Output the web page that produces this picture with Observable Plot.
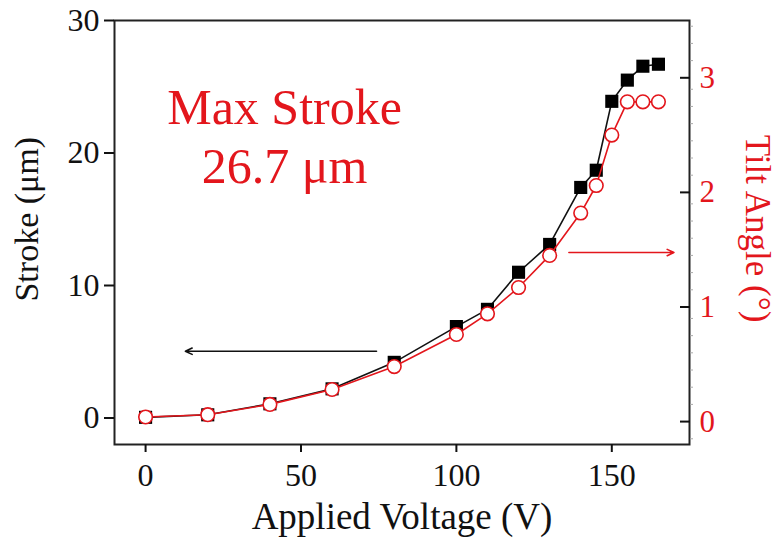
<!DOCTYPE html>
<html><head><meta charset="utf-8">
<script src="https://cdn.jsdelivr.net/npm/d3@7"></script>
<script src="https://cdn.jsdelivr.net/npm/@observablehq/plot@0.6"></script>
<style>body{margin:0;background:#fff}</style>
</head><body><div id="chart"></div>
<script>
// ---- data ----
const voltage = [0, 20, 40, 60, 80, 100, 110, 120, 130, 140, 145, 150, 155, 160, 165];
const stroke  = [0.05, 0.24, 1.07, 2.2, 4.2, 6.9, 8.2, 11.0, 13.1, 17.4, 18.7, 23.9, 25.5, 26.55, 26.7];
const tilt    = [0.04, 0.06, 0.15, 0.28, 0.48, 0.76, 0.94, 1.17, 1.45, 1.82, 2.06, 2.50, 2.79, 2.79, 2.79];

const xTicks = [0, 50, 100, 150];
const strokeTicks = [0, 10, 20, 30];
const tiltTicks = [0, 1, 2, 3];
const tiltMinor = [-0.15, 0.15, 0.3, 0.45, 0.6, 0.75, 0.9, 1.15, 1.3, 1.45, 1.6, 1.75, 1.9, 2.15, 2.3, 2.45, 2.6, 2.75, 2.9, 3.15, 3.3, 3.45];

const xDomain = [-10, 175];
const strokeDomain = [-2, 30];
const tiltDomain = [-0.2, 3.5];

// annotation arrows (x in V, y in stroke units)
const arrowX1 = [74.3, 136.2];
const arrowX2 = [12.8, 170.0];
const arrowY  = [5.04, 12.49];
const arrowColor = ["#111111", "#e3161c"];

const annotX = [44.7];
const annotY = [17.77];
const annotText = ["Max Stroke\n26.7 μm"];

const RED = "#e3161c";
const toStroke = t => strokeDomain[0] + (t - tiltDomain[0]) / (tiltDomain[1] - tiltDomain[0]) * (strokeDomain[1] - strokeDomain[0]);
const fromStroke = s => tiltDomain[0] + (s - strokeDomain[0]) / (strokeDomain[1] - strokeDomain[0]) * (tiltDomain[1] - tiltDomain[0]);

const strokeData = voltage.map((v, i) => ({v, s: stroke[i]}));
const tiltData = voltage.map((v, i) => ({v, t: tilt[i], s: toStroke(tilt[i])}));
const arrows = arrowX1.map((x1, i) => ({x1, x2: arrowX2[i], y: arrowY[i], c: arrowColor[i]}));
const annots = annotX.map((x, i) => ({x, y: annotY[i], text: annotText[i]}));

const chart = Plot.plot({
  width: 777, height: 539,
  marginLeft: 114, marginRight: 88, marginTop: 20, marginBottom: 95,
  x: {domain: xDomain},
  y: {domain: strokeDomain},
  style: {fontFamily: "'Liberation Serif', 'Times New Roman', serif", background: "white", color: "#111"},
  marks: [
    Plot.frame({stroke: "#222", strokeWidth: 2}),
    Plot.axisX({ticks: xTicks, tickSize: 8, tickPadding: 11, fontSize: 32, label: null, strokeWidth: 2}),
    Plot.axisY({anchor: "left", ticks: strokeTicks, tickSize: 10, tickPadding: 5, fontSize: 32, label: null, strokeWidth: 2}),
    Plot.axisY({anchor: "right", ticks: tiltTicks.map(toStroke), tickSize: 10, dx: -10, tickFormat: () => "", label: null, strokeWidth: 2}),
    Plot.axisY({anchor: "right", ticks: tiltMinor.map(toStroke), tickSize: 3, tickFormat: () => "", label: null, stroke: "#aaa", strokeWidth: 1}),
    Plot.axisY({anchor: "right", ticks: tiltTicks.map(toStroke), tickSize: 0, tickPadding: 10, fontSize: 31, fill: RED,
      tickFormat: d => String(Math.round(fromStroke(d))), label: null}),
    Plot.text(["Stroke (μm)"], {text: d => d, frameAnchor: "left", textAnchor: "middle", y: [15], dx: -87, rotate: -90, fontSize: 34, fill: "#111"}),
    Plot.text(["Tilt Angle (°)"], {text: d => d, frameAnchor: "right", textAnchor: "middle", y: [14.3], dx: 68, rotate: 90, fontSize: 35, fill: RED}),
    Plot.text(["Applied Voltage (V)"], {text: d => d, frameAnchor: "bottom", textAnchor: "middle", dy: 84, lineAnchor: "bottom", fontSize: 37, fill: "#111"}),
    Plot.arrow(arrows, {x1: "x1", x2: "x2", y1: "y", y2: "y", stroke: "c", strokeWidth: 1.6, headLength: 7, headAngle: 50}),
    Plot.line(strokeData, {x: "v", y: "s", stroke: "#111", strokeWidth: 1.6}),
    Plot.dot(strokeData, {x: "v", y: "s", symbol: "square", r: 7.4, fill: "#000", stroke: "none"}),
    Plot.line(tiltData, {x: "v", y: "s", stroke: RED, strokeWidth: 1.6}),
    Plot.dot(tiltData, {x: "v", y: "s", symbol: "circle", r: 6.8, fill: "white", stroke: RED, strokeWidth: 1.6}),
    Plot.text(annots, {x: "x", y: "y", text: "text", lineAnchor: "bottom", lineHeight: 1.18, fontSize: 50, fill: RED, textAnchor: "middle"})
  ]
});
document.getElementById("chart").appendChild(chart);
</script>
</body></html>
